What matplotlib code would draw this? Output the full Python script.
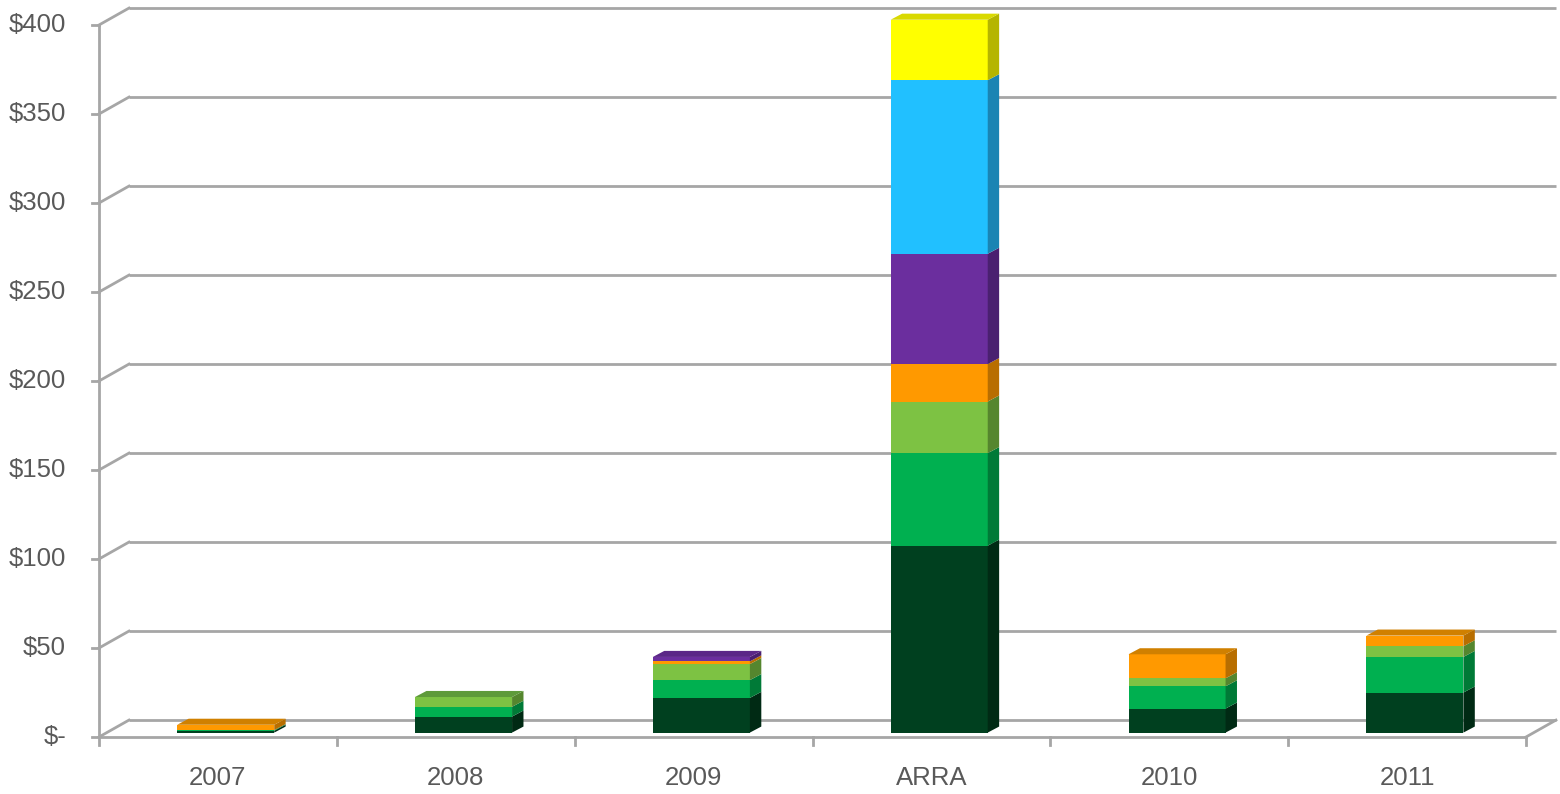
import numpy as np
import matplotlib.pyplot as plt
from matplotlib.patches import Polygon

plt.rcParams['font.family'] = ['Liberation Sans', 'DejaVu Sans']

categories = ['2007', '2008', '2009', 'ARRA', '2010', '2011']
dark_green = [1.0, 9.0, 19.5, 105, 13.5, 22.5]
green = [0.4, 5.5, 10.0, 52, 12.5, 20.0]
light_green = [0, 5.5, 9.0, 29, 4.5, 6.0]
orange = [3.0, 0, 1.5, 21, 13.5, 6.0]
purple = [0, 0, 2.5, 62, 0, 0]
blue = [0, 0, 0, 97.5, 0, 0]
yellow = [0, 0, 0, 34, 0, 0]

series = [dark_green, green, light_green, orange, purple, blue, yellow]
front_colors = ['#00401F', '#00B050', '#7DC243', '#FF9900', '#6B2E9E', '#21C0FF', '#FFFF00']
side_colors = ['#002A14', '#007A37', '#55862E', '#B86E00', '#4A2070', '#1A84B3', '#B5B500']
top_colors = ['#003519', '#009944', '#5E9A3A', '#D08000', '#5B2787', '#1DA6DD', '#D9D900']

yticks = np.arange(0, 401, 50)
ylabels = ['$-'] + ['$%d' % v for v in yticks[1:]]

grid_c = '#A6A6A6'
text_c = '#595959'
lw = 2.0

fig = plt.figure(figsize=(15.6, 7.94), dpi=100)
ax = fig.add_axes([99 / 1560, 57 / 794, 1427 / 1560, 712 / 794])
ax.set_xlim(0, len(categories))
ax.set_ylim(0, 400)
ax.axis('off')

# depth of the "3d" box
DX, DY = 0.126, 9.5
n = len(categories)

# back wall gridlines + side wall diagonals
for v, lab in zip(yticks, ylabels):
    ax.plot([DX, n + DX], [v + DY, v + DY], color=grid_c, lw=lw, clip_on=False,
            solid_capstyle='butt', zorder=1)
    ax.plot([0, DX], [v, v + DY], color=grid_c, lw=lw, clip_on=False, zorder=1)
    ax.plot([-0.03, 0], [v, v], color=grid_c, lw=lw, clip_on=False, zorder=1)
    ax.text(-0.139, v, lab, ha='right', va='center', fontsize=18.5, color=text_c)

ax.plot([0, 0], [0, 400], color=grid_c, lw=lw, clip_on=False, zorder=1)
ax.plot([0, n], [0, 0], color=grid_c, lw=lw, clip_on=False, zorder=1)
ax.plot([n, n + DX], [0, DY], color=grid_c, lw=lw, clip_on=False, zorder=1)
for i in range(n + 1):
    ax.plot([i, i], [0, -4.5], color=grid_c, lw=lw, clip_on=False, zorder=1)

# bars
w = 0.408
f = 0.26
BDX, BDY = 0.048, 3.4
for i, cat in enumerate(categories):
    x0 = i + 0.5 - w / 2 + f * DX
    x1 = x0 + w
    bottom = f * DY
    last = None
    for k, vals in enumerate(series):
        v = vals[i]
        if v <= 0:
            continue
        top = bottom + v
        ax.add_patch(Polygon([(x0, bottom), (x1, bottom), (x1, top), (x0, top)], closed=True,
                             facecolor=front_colors[k], edgecolor='none', zorder=3, clip_on=False))
        ax.add_patch(Polygon([(x1, bottom), (x1 + BDX, bottom + BDY), (x1 + BDX, top + BDY), (x1, top)],
                             closed=True, facecolor=side_colors[k], edgecolor='none', zorder=3,
                             clip_on=False))
        bottom = top
        last = k
    if last is not None:
        ax.add_patch(Polygon([(x0, bottom), (x1, bottom), (x1 + BDX, bottom + BDY), (x0 + BDX, bottom + BDY)],
                             closed=True, facecolor=top_colors[last], edgecolor='none', zorder=3,
                             clip_on=False))
    ax.text(i + 0.5, -23, cat, ha='center', va='center', fontsize=18.5, color=text_c)

fig.savefig('out.png', dpi=100)
